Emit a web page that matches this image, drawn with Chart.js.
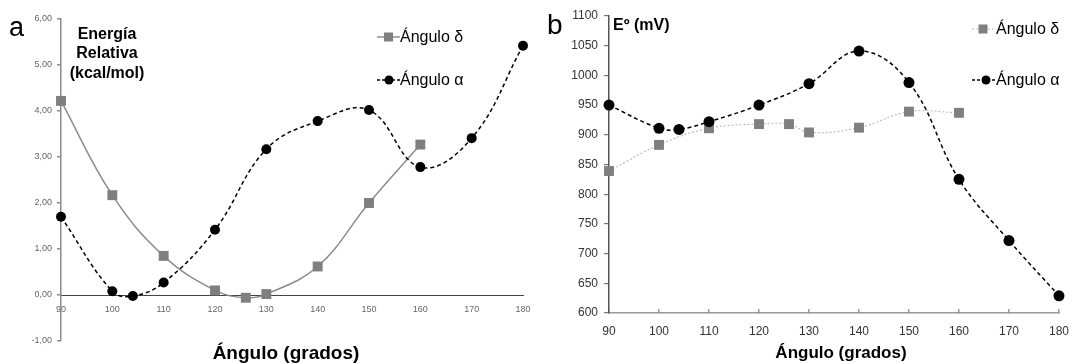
<!DOCTYPE html>
<html>
<head>
<meta charset="utf-8">
<script src="https://cdn.jsdelivr.net/npm/chart.js@4"></script>
<style>
  body { margin: 0; background: #fff; }
  #wrap { position: relative; width: 1084px; height: 363px; font-family: "Liberation Sans", Arial, sans-serif; color: #000; overflow: hidden; }
  canvas { position: absolute; top: 0; }
  .txt { position: absolute; line-height: 1; white-space: nowrap; }
  .key { position: absolute; }
</style>
</head>
<body>
<div id="wrap">
  <canvas id="chartA" width="540" height="363" style="left:0"></canvas>
  <canvas id="chartB" width="544" height="363" style="left:540px"></canvas>

  <div class="txt" style="left:9px; top:14px; font-size:27px;">a</div>
  <div class="txt" style="left:47px; top:23.7px; width:120px; font-size:16px; font-weight:bold; line-height:19.5px; text-align:center; white-space:normal;">Energía<br>Relativa<br>(kcal/mol)</div>
  <div class="txt" style="left:136px; top:343px; width:300px; text-align:center; font-size:19px; font-weight:bold;">Ángulo (grados)</div>

  <svg class="key" style="left:376px; top:31px" width="26" height="12">
    <line x1="1" y1="6" x2="24" y2="6" stroke="#8c8c8c" stroke-width="1.5"/>
    <rect x="8" y="1.5" width="9" height="9" fill="#7f7f7f"/>
  </svg>
  <div class="txt" style="left:400px; top:28.5px; font-size:16px;">Ángulo δ</div>
  <svg class="key" style="left:376px; top:74px" width="26" height="12">
    <line x1="1" y1="6" x2="24" y2="6" stroke="#000" stroke-width="1.5" stroke-dasharray="3,2"/>
    <circle cx="13" cy="6" r="4.5" fill="#000"/>
  </svg>
  <div class="txt" style="left:400px; top:71.5px; font-size:16px;">Ángulo α</div>

  <div class="txt" style="left:547px; top:11.3px; font-size:28px;">b</div>
  <div class="txt" style="left:613px; top:16.5px; font-size:16px; font-weight:bold;">Eº (mV)</div>
  <div class="txt" style="left:691px; top:343.6px; width:300px; text-align:center; font-size:17px; font-weight:bold;">Ángulo (grados)</div>

  <svg class="key" style="left:971px; top:23px" width="26" height="12">
    <line x1="1" y1="6" x2="24" y2="6" stroke="#bdbdbd" stroke-width="1.2" stroke-dasharray="2,2"/>
    <rect x="7.5" y="1.5" width="9" height="9" fill="#7f7f7f"/>
  </svg>
  <div class="txt" style="left:996px; top:20.5px; font-size:16px;">Ángulo δ</div>
  <svg class="key" style="left:971px; top:74px" width="26" height="12">
    <line x1="1" y1="6" x2="24" y2="6" stroke="#000" stroke-width="1.5" stroke-dasharray="3,2"/>
    <circle cx="15" cy="6" r="4.5" fill="#000"/>
  </svg>
  <div class="txt" style="left:996px; top:71.5px; font-size:16px;">Ángulo α</div>
</div>

<script>
// ---- data ----
const anglesDelta = [90, 100, 110, 120, 126, 130, 140, 150, 160];
const anglesAlpha = [90, 100, 104, 110, 120, 130, 140, 150, 160, 170, 180];

// panel a: relative energy (kcal/mol)
const energyDelta = [4.22, 2.17, 0.85, 0.10, -0.06, 0.02, 0.62, 2.00, 3.27];
const energyAlpha = [1.70, 0.08, -0.02, 0.27, 1.42, 3.17, 3.78, 4.02, 2.78, 3.41, 5.42];

// panel b: potential E (mV)
const potentialDelta = [839, 883, 911, 918, 918, 904, 912, 939, 937];
const potentialAlpha = [950, 911, 909, 922, 950, 986, 1041, 988, 825, 722, 629];

// tick labels
const angleTicks = [90, 100, 110, 120, 130, 140, 150, 160, 170, 180];
const energyTicks = [-1, 0, 1, 2, 3, 4, 5, 6];
const potentialTicks = [600, 650, 700, 750, 800, 850, 900, 950, 1000, 1050, 1100];

const FONT = "'Liberation Sans', Arial, sans-serif";

function toPoints(xs, ys) {
  return xs.map((x, i) => ({ x: x, y: ys[i] }));
}

function fixedTicks(list) {
  return scale => { scale.ticks = list.map(v => ({ value: v })); };
}

// ---- panel a ----
new Chart(document.getElementById("chartA"), {
  type: "line",
  data: {
    datasets: [
      {
        label: "Ángulo α",
        data: toPoints(anglesAlpha, energyAlpha),
        borderColor: "#000",
        borderWidth: 1.5,
        borderDash: [4, 3],
        pointStyle: "circle",
        pointRadius: 5,
        pointBackgroundColor: "#000",
        pointBorderWidth: 0,
        tension: 0.4,
        clip: false
      },
      {
        label: "Ángulo δ",
        data: toPoints(anglesDelta, energyDelta),
        borderColor: "#8c8c8c",
        borderWidth: 1.5,
        pointStyle: "rect",
        pointRadius: 7,
        pointBackgroundColor: "#7f7f7f",
        pointBorderWidth: 0,
        tension: 0.4,
        clip: false
      }
    ]
  },
  options: {
    responsive: false,
    animation: false,
    layout: { padding: { left: 0, right: 17, top: 19, bottom: 22 } },
    plugins: { legend: { display: false }, tooltip: { enabled: false } },
    scales: {
      x: {
        type: "linear",
        min: 90,
        max: 180,
        position: { y: 0 },
        afterBuildTicks: fixedTicks(angleTicks),
        grid: { display: false, drawTicks: false },
        border: { color: "#444", width: 1 },
        ticks: { font: { size: 9, family: FONT }, color: "#666", padding: 9, callback: v => String(v) }
      },
      y: {
        type: "linear",
        min: -1,
        max: 6,
        afterBuildTicks: fixedTicks(energyTicks),
        afterFit: s => { s.width = 61; },
        grid: { drawOnChartArea: false, tickLength: 4, color: "#8c8c8c", lineWidth: 1.5 },
        border: { color: "#8c8c8c", width: 1.5 },
        ticks: {
          font: { size: 9, family: FONT },
          color: "#666",
          padding: 5,
          callback: v => v.toFixed(2).replace(".", ",")
        }
      }
    }
  }
});

// ---- panel b ----
new Chart(document.getElementById("chartB"), {
  type: "line",
  data: {
    datasets: [
      {
        label: "Ángulo α",
        data: toPoints(anglesAlpha, potentialAlpha),
        borderColor: "#000",
        borderWidth: 1.5,
        borderDash: [4, 3],
        pointStyle: "circle",
        pointRadius: 5.5,
        pointBackgroundColor: "#000",
        pointBorderWidth: 0,
        tension: 0.4,
        clip: false
      },
      {
        label: "Ángulo δ",
        data: toPoints(anglesDelta, potentialDelta),
        borderColor: "#bdbdbd",
        borderWidth: 1.2,
        borderDash: [2, 2],
        pointStyle: "rect",
        pointRadius: 7,
        pointBackgroundColor: "#7f7f7f",
        pointBorderWidth: 0,
        tension: 0.4,
        clip: false
      }
    ]
  },
  options: {
    responsive: false,
    animation: false,
    layout: { padding: { left: 0, right: 10, top: 16, bottom: 0 } },
    plugins: { legend: { display: false }, tooltip: { enabled: false } },
    scales: {
      x: {
        type: "linear",
        min: 90,
        max: 180,
        position: "bottom",
        afterBuildTicks: fixedTicks(angleTicks),
        afterFit: s => { s.height = 50; },
        grid: { drawOnChartArea: false, tickLength: -4, color: "#999", lineWidth: 1.5 },
        border: { color: "#999", width: 1.5 },
        ticks: { font: { size: 12, family: FONT }, color: "#333", padding: 15, callback: v => String(v) }
      },
      y: {
        type: "linear",
        min: 600,
        max: 1100,
        afterBuildTicks: fixedTicks(potentialTicks),
        afterFit: s => { s.width = 69; },
        grid: { drawOnChartArea: false, tickLength: 5, color: "#777", lineWidth: 1.2 },
        border: { color: "#555", width: 1.5 },
        ticks: { font: { size: 12, family: FONT }, color: "#333", padding: 6, callback: v => String(v) }
      }
    }
  }
});
</script>
</body>
</html>
